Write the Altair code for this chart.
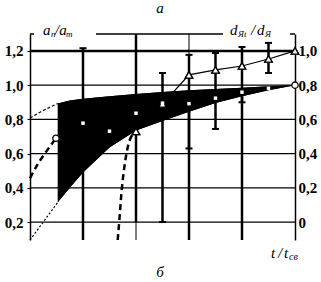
import altair as alt
import pandas as pd

# ---------------- data ----------------
x_ticks = [0, 0.2, 0.4, 0.6, 0.8]
left_ticks = [0.2, 0.4, 0.6, 0.8, 1.0, 1.2]
right_ticks = [0, 0.2, 0.4, 0.6, 0.8, 1.0]
grid_x = [0.4, 0.6]
RIGHT_OFFSET = 0.2  # right axis value = left axis value - 0.2

# black band (left axis units)
band_t = [0.105, 0.15, 0.2, 0.3, 0.4, 0.5, 0.6, 0.7, 0.8, 0.9, 1.0]
band_upper = [0.893, 0.91, 0.92, 0.935, 0.948, 0.96, 0.97, 0.978, 0.985, 0.993, 1.0]
band_lower = [0.316, 0.40, 0.49, 0.635, 0.735, 0.79, 0.845, 0.895, 0.935, 0.97, 1.0]

# extensions of the band to t = 0 (left units)
upper_ext_t = [0.0, 0.038, 0.075, 0.105]
upper_ext_v = [0.807, 0.842, 0.871, 0.893]
lower_ext_t = [0.0, 0.105]
lower_ext_v = [0.095, 0.316]

# thick dashed curve at the left, ending at the open circle (left units)
dash_left_t = [0.0, 0.03, 0.056, 0.098]
dash_left_v = [0.456, 0.54, 0.60, 0.69]

# white points inside the band (left units)
dot_t = [0.2, 0.3, 0.4, 0.5, 0.6, 0.7, 0.8, 0.9]
dot_v = [0.778, 0.731, 0.836, 0.895, 0.892, 0.924, 0.959, 0.982]
circle_t = [0.098, 1.0]
circle_v = [0.69, 1.0]
dot_err_t = [0.2, 0.6, 0.8]
dot_err_lo = [0.095, 0.095, 0.095]
dot_err_hi = [1.216, 0.892, 0.959]

# triangles (right axis units)
tri_t = [0.4, 0.5, 0.6, 0.7, 0.8, 0.9, 1.0]
tri_v = [0.53, 0.69, 0.86, 0.889, 0.912, 0.953, 1.0]
tri_dash_t = [0.331, 0.338, 0.346, 0.353, 0.361, 0.376, 0.4]
tri_dash_v = [-0.105, 0.028, 0.186, 0.285, 0.373, 0.478, 0.53]
tri_err_t = [0.4, 0.5, 0.6, 0.7, 0.8, 0.9]
tri_err_lo = [0.0, 0.0, 0.43, 0.544, 0.70, 0.871]
tri_err_hi = [1.099, 0.871, 0.977, 0.988, 1.023, 1.047]

# ---------------- styling ----------------
FONT = "Liberation Serif, Times New Roman, DejaVu Serif, serif"
W, H = 265, 206
Y_MIN, Y_MAX = 0.095, 1.299
XS = alt.Scale(domain=[0, 1], nice=False, zero=False)
YL = alt.Scale(domain=[Y_MIN, Y_MAX], nice=False, zero=False)
FMT = "datum.value == 0 ? '0' : replace(format(datum.value, '.1f'), '.', ',')"
FMT_R = ("abs(datum.value - 0.2) < 0.001 ? '0' : "
         "replace(format(datum.value - 0.2, '.1f'), '.', ',')")
LBL = dict(labelFont=FONT, labelFontSize=15, labelFontWeight="bold", labelColor="black")

x_axis = alt.Axis(values=x_ticks, labelExpr=FMT, grid=False, ticks=False, domain=True,
                  domainColor="black", domainWidth=1.5, labelPadding=4, title=None, **LBL)
left_axis = alt.Axis(values=left_ticks, labelExpr=FMT, grid=False, ticks=True, tickSize=3,
                     tickColor="black", domain=True, domainColor="black",
                     domainWidth=1.5, labelPadding=4, title=None, **LBL)
right_axis = alt.Axis(values=[v + RIGHT_OFFSET for v in right_ticks], labelExpr=FMT_R,
                      orient="right", grid=False, ticks=False, domain=True,
                      domainColor="black", domainWidth=1.5, labelPadding=3, title=None,
                      **LBL)

one = pd.DataFrame({"k": [0]})
X = alt.X("t:Q", scale=XS, axis=None)


def Y(field):
    return alt.Y(field, scale=YL, axis=None)


def right_units(ch, *fields):
    for f in fields:
        ch = ch.transform_calculate(**{f: f"datum.{f} + {RIGHT_OFFSET}"})
    return ch


def line(t, v, right=False, **mk):
    ch = alt.Chart(pd.DataFrame({"t": t, "v": v}))
    if right:
        ch = right_units(ch, "v")
    return ch.mark_line(color="black", **mk).encode(x=X, y=Y("v:Q"))


def errs(t, lo, hi, width, right=False):
    ch = alt.Chart(pd.DataFrame({"t": t, "lo": lo, "hi": hi}))
    if right:
        ch = right_units(ch, "lo", "hi")
    return ch.mark_rule(color="black", strokeWidth=width).encode(
        x=X, y=Y("lo:Q"), y2="hi:Q")


def caps(t, v, right=False):
    ch = alt.Chart(pd.DataFrame({"t": t, "v": v}))
    if right:
        ch = right_units(ch, "v")
    return ch.mark_tick(color="black", orient="horizontal", size=7,
                        thickness=2, opacity=1).encode(x=X, y=Y("v:Q"))


def txt(s, x, y, size=15, italic=True, align="left"):
    return alt.Chart(one).mark_text(text=s, font=FONT, fontSize=size,
                                    fontStyle="italic" if italic else "normal",
                                    align=align, baseline="alphabetic",
                                    color="black").encode(
        x=alt.value(x), y=alt.value(y))


def seg(x1, x2, y, w=1.5):
    return alt.Chart(one).mark_rule(color="black", strokeWidth=w).encode(
        x=alt.value(x1), x2=alt.value(x2), y=alt.value(y))


# grid lines as rules from the tick arrays
hgrid = alt.Chart(pd.DataFrame({"v": left_ticks})).mark_rule(color="black").encode(
    y=Y("v:Q"),
    strokeWidth=alt.condition("datum.v > 1.1", alt.value(2.5), alt.value(1.3)),
)
vgrid = alt.Chart(pd.DataFrame({"t": grid_x})).mark_rule(color="black", strokeWidth=1).encode(
    x=X)

# band with the bottom and left axes
band = alt.Chart(pd.DataFrame({"t": band_t, "up": band_upper, "lo": band_lower})).mark_area(
    color="black", opacity=1).encode(
    x=alt.X("t:Q", scale=XS, axis=x_axis),
    y=alt.Y("up:Q", scale=YL, axis=left_axis),
    y2="lo:Q",
)

# triangles carry the right axis
triangles = right_units(alt.Chart(pd.DataFrame({"t": tri_t, "v": tri_v})), "v").mark_point(
    shape="triangle-up", size=55, filled=True, fill="white", stroke="black",
    strokeWidth=1.3, opacity=1).encode(
    x=X, y=alt.Y("v:Q", scale=YL, axis=right_axis))

dots = alt.Chart(pd.DataFrame({"t": dot_t, "v": dot_v})).mark_point(
    shape="square", size=12, filled=True, color="white", opacity=1).encode(x=X, y=Y("v:Q"))
circles = alt.Chart(pd.DataFrame({"t": circle_t, "v": circle_v})).mark_point(
    shape="circle", size=40, filled=True, fill="white", stroke="black",
    strokeWidth=1.3, opacity=1).encode(x=X, y=Y("v:Q"))

cap_t = tri_err_t[1:] + tri_err_t[1:]
cap_v = tri_err_lo[1:] + tri_err_hi[1:]

chart = alt.layer(
    band,
    triangles,
    hgrid,
    vgrid,
    band.encode(x=X, y=Y("up:Q")),
    line(upper_ext_t, upper_ext_v, strokeWidth=1.2, strokeDash=[3, 2], interpolate="monotone"),
    line(lower_ext_t, lower_ext_v, strokeWidth=1.2, strokeDash=[2, 2]),
    line(dash_left_t, dash_left_v, strokeWidth=2.5, strokeDash=[6, 4], interpolate="monotone"),
    errs(dot_err_t, dot_err_lo, dot_err_hi, 2.5),
    caps([0.2], [1.216]),
    errs(tri_err_t, tri_err_lo, tri_err_hi, 2.5, right=True),
    caps(cap_t, cap_v, right=True),
    line(tri_t, tri_v, right=True, strokeWidth=1.2),
    line(tri_dash_t, tri_dash_v, right=True, strokeWidth=2.5, strokeDash=[6, 4],
         interpolate="monotone"),
    triangles.encode(y=Y("v:Q")),
    dots,
    circles,
    # top frame with gaps for the two headings
    seg(0, 4, 0), seg(66, 193, 0), seg(260, 265, 0),
    # left heading a_п / a_т
    txt("a", 13, 1), txt("п", 21, 3, size=9), txt("/a", 25, 1), txt("т", 36, 3, size=9),
    # right heading d_Яt / d_Я
    txt("d", 200, 1), txt("Яt", 208, 3, size=9), txt("/", 221, 1), txt("d", 227, 1),
    txt("Я", 235, 3, size=9),
    # x-axis title t / t_св
    txt("t", 241, 224), txt("/", 248, 224), txt("t", 254, 224), txt("св", 259, 226, size=10),
    # panel letters
    txt("а", 130, -21, size=15, align="center"),
    txt("б", 130, 243, size=15, align="center"),
).resolve_axis(y="independent").properties(
    width=W, height=H,
    autosize=alt.AutoSizeParams(type="none"),
    padding={"left": 30, "top": 34, "right": 26, "bottom": 42},
    background="white",
).configure_view(stroke=None)

chart.save("out.html", embed_options={"renderer": "svg", "actions": False})
